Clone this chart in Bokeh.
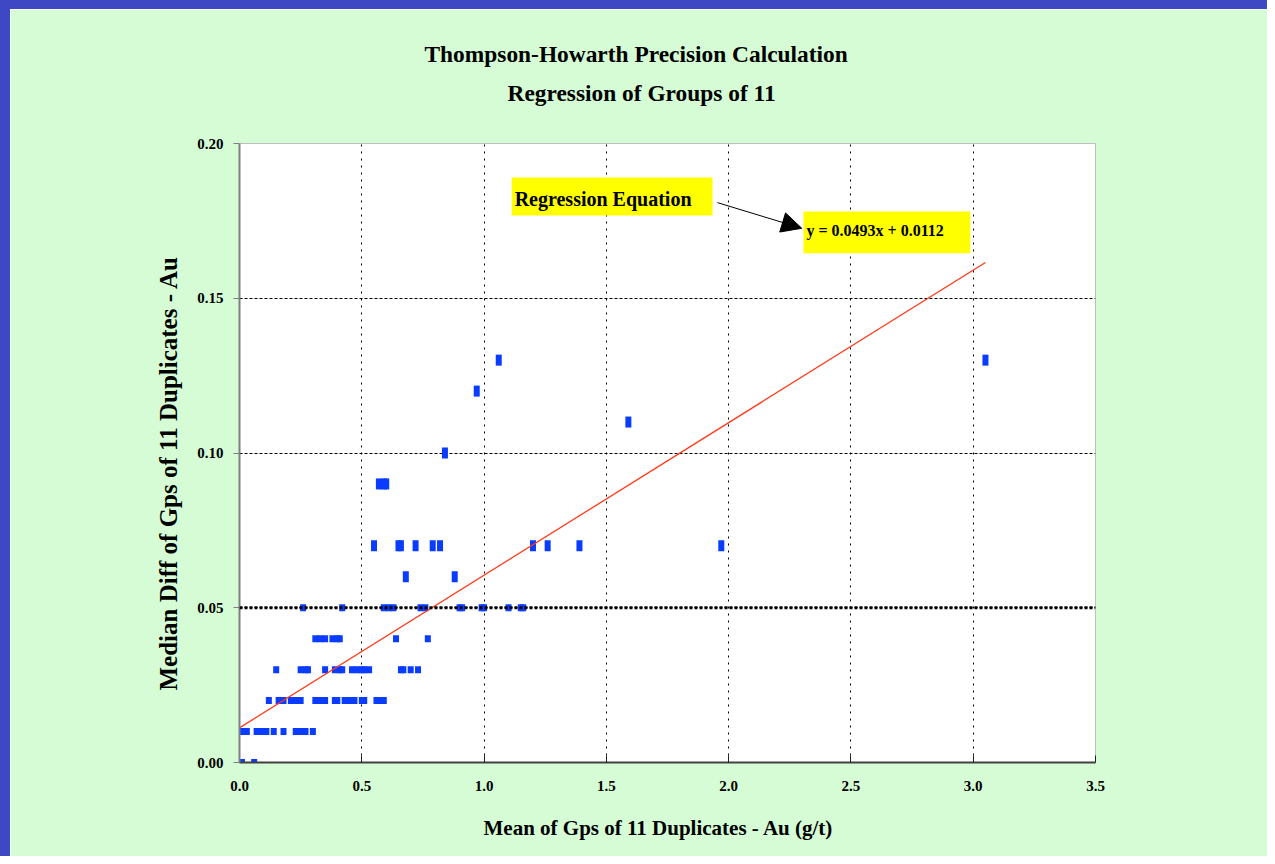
import math
from bokeh.plotting import figure
from bokeh.models import (Range1d, FixedTicker, Label, BoxAnnotation, Arrow,
                          NormalHead, Span, ColumnDataSource, Title)
from bokeh.embed import file_html
from bokeh.resources import INLINE

# ---------------- data ----------------
title_line1 = "Thompson-Howarth Precision Calculation"
title_line2 = "Regression of Groups of 11"
x_title = "Mean of Gps of 11 Duplicates - Au (g/t)"
y_title = "Median Diff of Gps of 11 Duplicates - Au"
box_title = "Regression Equation"
equation_text = "y = 0.0493x + 0.0112"
slope = 0.0493
intercept = 0.0112

x_ticks = [0.0, 0.5, 1.0, 1.5, 2.0, 2.5, 3.0, 3.5]
x_tick_labels = ["0.0", "0.5", "1.0", "1.5", "2.0", "2.5", "3.0", "3.5"]
y_ticks = [0.00, 0.05, 0.10, 0.15, 0.20]
y_tick_labels = ["0.00", "0.05", "0.10", "0.15", "0.20"]

mean_au = [
    0.00, 0.01, 0.06,
    0.01, 0.03, 0.07, 0.09, 0.11, 0.14, 0.18, 0.23, 0.25, 0.27, 0.30,
    0.12, 0.16, 0.18, 0.21, 0.23, 0.25, 0.31, 0.33, 0.35, 0.39, 0.40, 0.43,
    0.45, 0.47, 0.50, 0.51, 0.56, 0.57, 0.59,
    0.15, 0.25, 0.27, 0.28, 0.35, 0.39, 0.41, 0.42, 0.46, 0.48, 0.50, 0.51,
    0.53, 0.66, 0.67, 0.70, 0.73,
    0.31, 0.33, 0.35, 0.38, 0.40, 0.41, 0.64, 0.77,
    0.26, 0.42, 0.59, 0.61, 0.63, 0.74, 0.76, 0.90, 0.91, 0.99, 1.00, 1.10,
    1.15, 1.16,
    0.68, 0.88,
    0.55, 0.65, 0.66, 0.72, 0.79, 0.82, 1.20, 1.26, 1.39, 1.97,
    0.57, 0.59, 0.60,
    0.84,
    1.59,
    0.97,
    1.06, 3.05,
]
median_diff = (
    [0.00] * 3 + [0.01] * 11 + [0.02] * 19 + [0.03] * 17 + [0.04] * 8 +
    [0.05] * 14 + [0.06] * 2 + [0.07] * 10 + [0.09] * 3 + [0.10] * 1 +
    [0.11] * 1 + [0.12] * 1 + [0.13] * 2
)

# ---------------- styles ----------------
FONT = "Liberation Serif"
GREEN = "#D5FCD5"
BLUE = "#3E48C4"
MARKER = "#0A3CFF"
BT, BL = 9, 10          # blue slide frame (top, left) in px
W, H = 1267, 856

p = figure(width=W, height=H, output_backend="svg", toolbar_location=None,
           x_range=Range1d(0, 3.5), y_range=Range1d(0, 0.2),
           min_border_left=239 - BL, min_border_right=(W + BL) - 1095,
           min_border_top=143 - BT, min_border_bottom=(H + BT) - 762,
           background_fill_color="white",
           border_fill_color=GREEN, outline_line_color="#BFBFBF")
p.styles = {"border-top": f"{BT}px solid {BLUE}",
            "border-left": f"{BL}px solid {BLUE}"}
p.title.visible = False

HAS_STANDOFF = "standoff" in Title.properties()


def title(text, loc, size, offset, standoff, align="left"):
    t = Title(text=text, align=align, offset=offset, text_font=FONT,
              text_font_style="bold", text_font_size=size, text_color="black")
    if HAS_STANDOFF:
        t.standoff = standoff
    p.add_layout(t, loc)


# titles (first added sits closest to the frame)
title(" ", "above", "1px", 0, 29)          # spacer between frame and titles
title(title_line2, "above", "23.4px", 268, 11)
title(title_line1, "above", "23.4px", 185, 11)
title(x_title, "below", "21px", 244, 41)
title(y_title, "left", "25px", 72, 26)

# axes
p.xaxis.ticker = FixedTicker(ticks=x_ticks)
p.xaxis.major_label_overrides = dict(zip(x_ticks, x_tick_labels))
p.yaxis.ticker = FixedTicker(ticks=y_ticks)
p.yaxis.major_label_overrides = dict(zip(y_ticks, y_tick_labels))
for ax in (p.xaxis, p.yaxis):
    ax.major_label_text_font = FONT
    ax.major_label_text_font_style = "bold"
    ax.major_label_text_font_size = "15px"
    ax.major_label_text_color = "black"
    ax.minor_tick_line_color = None
p.xaxis.axis_line_color = "#404040"
p.xaxis.axis_line_width = 2
p.xaxis.major_tick_in = 7
p.xaxis.major_tick_out = 0
p.xaxis.major_tick_line_color = "#202020"
p.xaxis.major_label_standoff = 18
p.yaxis.axis_line_color = "#7F7F7F"
p.yaxis.axis_line_width = 2
p.yaxis.major_tick_in = 0
p.yaxis.major_tick_out = 6
p.yaxis.major_tick_line_color = "#7F7F7F"
p.yaxis.major_label_standoff = 10

# grids
p.xgrid.ticker = FixedTicker(ticks=x_ticks)
p.xgrid.grid_line_color = "black"
p.xgrid.grid_line_dash = "2 5"
p.xgrid.grid_line_width = 1
p.ygrid.ticker = FixedTicker(ticks=y_ticks)
p.ygrid.grid_line_color = "black"
p.ygrid.grid_line_dash = "3 2"
p.ygrid.grid_line_width = 1
p.add_layout(Span(location=y_ticks[1], dimension="width", line_color="black",
                  line_width=3, line_dash="3 2"))

# markers
heights = [7 if v <= 0.05 else 11 for v in median_diff]
src = ColumnDataSource(dict(x=mean_au, y=median_diff, h=heights))
p.rect(x="x", y="y", width=6, height="h", width_units="screen",
       height_units="screen", fill_color=MARKER, line_color=None, source=src)

# regression line
x0, x1 = min(mean_au), max(mean_au)
p.line(x=[x0, x1], y=[slope * x0 + intercept, slope * x1 + intercept],
       line_color="#FF3A1A", line_width=1.3)

# annotation boxes
p.add_layout(BoxAnnotation(left=1.113, right=1.934, top=0.189, bottom=0.1767,
                           fill_color="#FFFF00", fill_alpha=1.0,
                           line_alpha=0))
p.add_layout(BoxAnnotation(left=2.306, right=2.988, top=0.178, bottom=0.1645,
                           fill_color="#FFFF00", fill_alpha=1.0,
                           line_alpha=0))
p.add_layout(Arrow(end=NormalHead(size=20, fill_color="black",
                                  line_color="black"),
                   x_start=1.954, y_start=0.1809, x_end=2.299, y_end=0.1726,
                   line_color="black", line_width=1))


def lab(x, y, text, size, align="center"):
    p.add_layout(Label(x=x, y=y, text=text, text_font=FONT,
                       text_font_style="bold", text_font_size=size,
                       text_color="black", text_align=align,
                       text_baseline="middle"))


lab(1.125, 0.1822, box_title, "20px", align="left")
lab(2.318, 0.1719, equation_text, "16px", align="left")

with open("out.html", "w", encoding="utf-8") as f:
    f.write(file_html(p, INLINE))
